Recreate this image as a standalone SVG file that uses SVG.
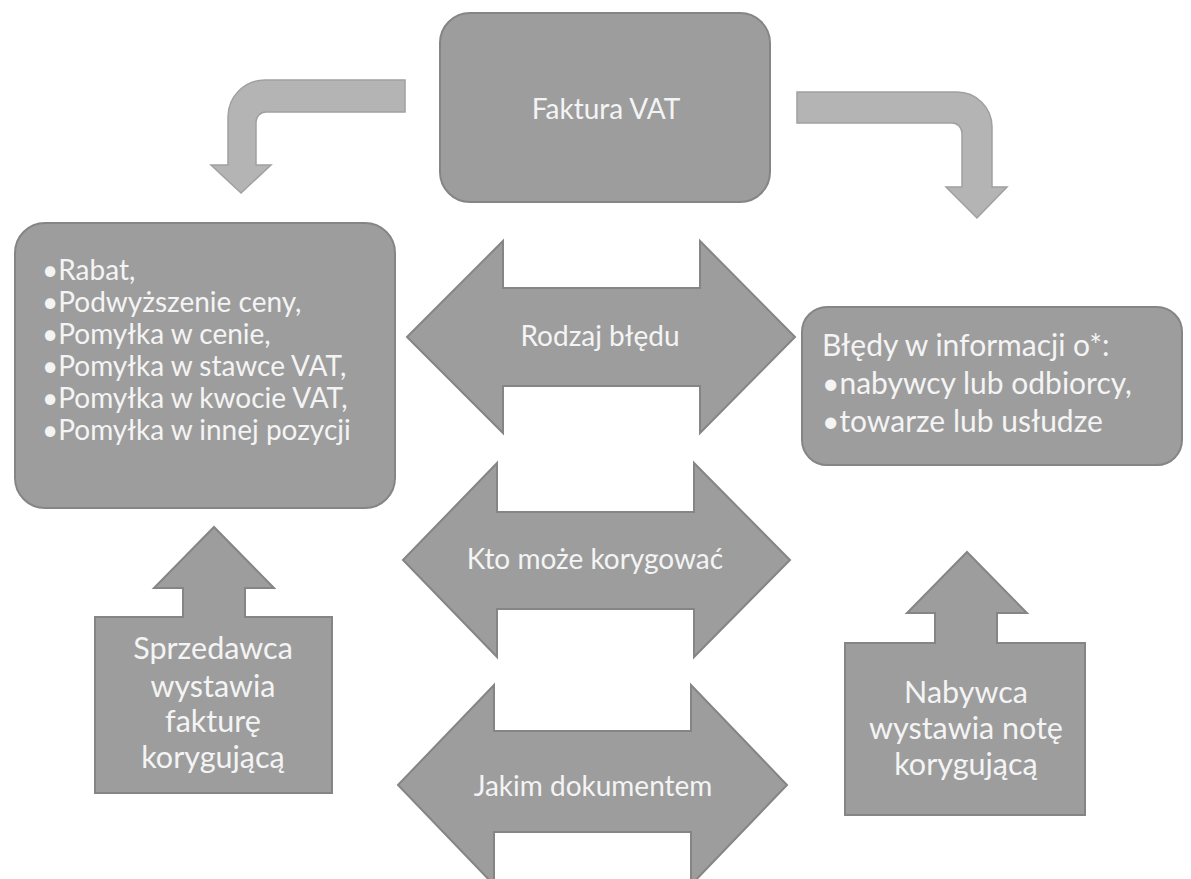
<svg xmlns="http://www.w3.org/2000/svg" width="1191" height="879" viewBox="0 0 1191 879">
<style>
.sh{fill:#9d9d9d;stroke:#858585;stroke-width:2}
.bent{fill:#b4b4b4;stroke:#a0a0a0;stroke-width:1.5}
.t{font-family:Lato,"Liberation Sans",sans-serif;font-size:28px;fill:#f4f4f4}
.r{font-size:30px}
.b{font-size:30.5px}
.c{text-anchor:middle}
</style>
<rect width="1191" height="879" fill="#ffffff"/>
<g id="connectors">
<path class="bent" d="M405,80 H265 A37,37 0 0 0 228,117 V165 H211 L241,193 L271,165 H256 V122 A10,10 0 0 1 266,112 H405 Z"/>
<path class="bent" d="M797,92 H957 A35,35 0 0 1 992,127 V187 H1007 L977,218 L946,187 H962 V133 A10,10 0 0 0 952,123 H797 Z"/>
</g>
<g id="faktura">
<rect class="sh" x="440" y="13" width="330" height="189" rx="30"/>
<text class="t c" x="606" y="119">Faktura VAT</text>
</g>
<g id="rodzaje-sprzedawcy">
<rect class="sh" x="15" y="223" width="380" height="285" rx="30"/>
<text class="t" x="42" y="280">•Rabat,</text>
<text class="t" x="42" y="312">•Podwyższenie ceny,</text>
<text class="t" x="42" y="344">•Pomyłka w cenie,</text>
<text class="t" x="42" y="376">•Pomyłka w stawce VAT,</text>
<text class="t" x="42" y="408">•Pomyłka w kwocie VAT,</text>
<text class="t" x="42" y="440">•Pomyłka w innej pozycji</text>
</g>
<g id="rodzaje-nabywcy">
<rect class="sh" x="802" y="307" width="380" height="158" rx="25"/>
<text class="t r" x="822" y="356">Błędy w informacji o*:</text>
<text class="t r" x="822" y="394">•nabywcy lub odbiorcy,</text>
<text class="t r" x="822" y="432">•towarze lub usłudze</text>
</g>
<g id="rodzaj-bledu">
<path class="sh" d="M407,337 L503,241 V288 H700 V241 L795,337 L700,433 V386 H503 V433 Z"/>
<text class="t c" x="600" y="346">Rodzaj błędu</text>
</g>
<g id="kto-moze">
<path class="sh" d="M403,560 L497,463 V512 H694 V463 L790,560 L694,657 V609 H497 V657 Z"/>
<text class="t c" x="595" y="569">Kto może korygować</text>
</g>
<g id="jakim-dokumentem">
<path class="sh" d="M398,785 L494,685 V731 H691 V685 L787,785 L691,885 V832 H494 V885 Z"/>
<text class="t c" x="593" y="796">Jakim dokumentem</text>
</g>
<g id="sprzedawca">
<path class="sh" d="M95,617 H183 V588 H154 L214,527 L274,588 H245 V617 H332 V793 H95 Z"/>
<text class="t b c" x="213" y="659">Sprzedawca</text>
<text class="t b c" x="213" y="697">wystawia</text>
<text class="t b c" x="213" y="732">fakturę</text>
<text class="t b c" x="213" y="768">korygującą</text>
</g>
<g id="nabywca">
<path class="sh" d="M845,643 H935 V613 H907 L967,552 L1027,613 H997 V643 H1085 V815 H845 Z"/>
<text class="t b c" x="966" y="703">Nabywca</text>
<text class="t b c" x="966" y="739">wystawia notę</text>
<text class="t b c" x="966" y="775">korygującą</text>
</g>
</svg>
